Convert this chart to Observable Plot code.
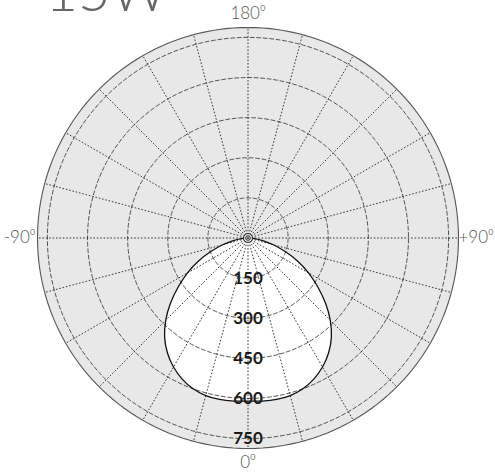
<!DOCTYPE html>
<html>
<head>
<meta charset="utf-8">
<script src="https://cdn.jsdelivr.net/npm/d3@7"></script>
<script src="https://cdn.jsdelivr.net/npm/@observablehq/plot@0.6"></script>
<style>
  html, body { margin: 0; padding: 0; background: #ffffff; }
  #chart svg { display: block; overflow: visible; }
</style>
</head>
<body>
<div id="chart"></div>
<script>
// ---- data ----
const title = "15W";
const angles = [0, 5, 10, 15, 20, 25, 30, 35, 40, 45, 50, 55, 60, 65, 70, 75, 80, 85, 90];
const candela = [610, 612, 613, 610, 600, 582, 557, 525, 485, 435, 378, 318, 262, 205, 148, 98, 56, 25, 5];
const ringValues = [150, 300, 450, 600, 750];
const ringLabels = ["150", "300", "450", "600", "750"];
const spokeAngles = d3.range(0, 360, 15);
const angleLabelPos = [0, 90, 180, -90];
const angleLabelText = ["0\u2070", "+90\u2070", "180\u2070", "-90\u2070"];
const rMax = 787;

// ---- derived tables ----
const rad = (a) => a * Math.PI / 180;
const px = (r, a) => r * Math.sin(rad(a));
const py = (r, a) => -r * Math.cos(rad(a));

const curve = [];
for (let i = angles.length - 1; i >= 0; i--) curve.push({a: -angles[i], r: candela[i]});
for (let i = 1; i < angles.length; i++) curve.push({a: angles[i], r: candela[i]});

const circleSteps = d3.range(0, 361, 2);
const disc = circleSteps.map(a => ({a, r: rMax}));
const rings = ringValues.flatMap(v => circleSteps.map(a => ({a, r: v})));
const spokes = spokeAngles.map(a => ({a}));
const ringLab = ringValues.map((v, i) => ({v, label: ringLabels[i]}));
const angLab = angleLabelPos.map((a, i) => ({a, label: angleLabelText[i]}));

const font = "Lato, 'Open Sans', sans-serif";

const chart = Plot.plot({
  width: 495,
  height: 474,
  marginLeft: 37,
  marginRight: 37,
  marginTop: 27,
  marginBottom: 26,
  x: {domain: [-rMax, rMax], axis: null},
  y: {domain: [-rMax, rMax], axis: null},
  style: {fontFamily: font, background: "#ffffff"},
  marks: [
    // grey disc
    Plot.line(disc, {x: d => px(d.r, d.a), y: d => py(d.r, d.a), fill: "#e8e8e9", stroke: "none"}),
    // white distribution fill
    Plot.line(curve, {x: d => px(d.r, d.a), y: d => py(d.r, d.a), fill: "#ffffff", stroke: "none", curve: "catmull-rom"}),
    // dashed rings
    Plot.line(rings, {x: d => px(d.r, d.a), y: d => py(d.r, d.a), z: "r", stroke: "#444", strokeWidth: 0.9, strokeDasharray: "4,2.5"}),
    // dotted spokes
    Plot.link(spokes, {x1: 0, y1: 0, x2: d => px(rMax, d.a), y2: d => py(rMax, d.a), stroke: "#222", strokeWidth: 0.9, strokeDasharray: "1.6,1.8"}),
    // outer circle
    Plot.line(disc, {x: d => px(d.r, d.a), y: d => py(d.r, d.a), stroke: "#555", strokeWidth: 1.1}),
    // distribution curve
    Plot.line(curve, {x: d => px(d.r, d.a), y: d => py(d.r, d.a), stroke: "#111", strokeWidth: 1.3, curve: "catmull-rom"}),
    // centre marker
    Plot.dot([0], {x: 0, y: 0, r: 4.5, stroke: "#222", strokeWidth: 1, fill: "#e8e8e9"}),
    Plot.dot([0], {x: 0, y: 0, r: 2.3, stroke: "#222", strokeWidth: 1, fill: "none"}),
    Plot.dot([0], {x: 0, y: 0, r: 0.9, fill: "#222"}),
    // radial labels
    Plot.text(ringLab, {x: 0, y: d => -d.v, text: "label", fontSize: 17, fontWeight: "bold", fill: "#1a1a1a", textAnchor: "middle"}),
    // angle labels
    Plot.text(angLab.filter(d => d.a === 180), {x: 0, y: rMax, text: "label", dy: -14, fontSize: 17, fontWeight: 300, fill: "#555", textAnchor: "middle"}),
    Plot.text(angLab.filter(d => d.a === 0), {x: 0, y: -rMax, text: "label", dy: 14, fontSize: 17, fontWeight: 300, fill: "#555", textAnchor: "middle"}),
    Plot.text(angLab.filter(d => d.a === -90), {x: -rMax, y: 0, text: "label", dx: -2, fontSize: 17, fontWeight: 300, fill: "#555", textAnchor: "end"}),
    Plot.text(angLab.filter(d => d.a === 90), {x: rMax, y: 0, text: "label", dx: 0, fontSize: 17, fontWeight: 300, fill: "#555", textAnchor: "start"}),
    // title (cropped at the top, as in the reference)
    Plot.text([title], {frameAnchor: "top-left", text: d => d, dx: 8, dy: -17, lineAnchor: "bottom", textAnchor: "start", fontSize: 56, fontWeight: 300, fill: "#666"})
  ]
});
document.getElementById("chart").appendChild(chart);
</script>
</body>
</html>
